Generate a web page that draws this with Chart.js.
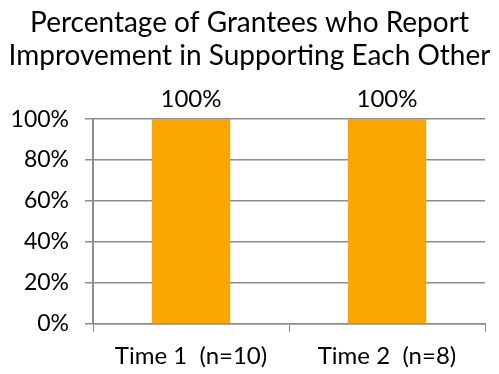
<!DOCTYPE html>
<html>
<head>
<meta charset="utf-8">
<script src="https://cdn.jsdelivr.net/npm/chart.js@4/dist/chart.umd.min.js"></script>
<style>
  html, body { margin: 0; padding: 0; background: #fff; }
  #wrap { width: 499px; height: 374px; }
</style>
</head>
<body>
<div id="wrap"><canvas id="chart" width="499" height="374"></canvas></div>
<script>
// chart data
var categories = ['Time 1  (n=10)', 'Time 2  (n=8)'];
var percentImproved = [100, 100];
var yTicks = [0, 20, 40, 60, 80, 100];

var FONT = 'Lato, "Liberation Sans", sans-serif';

// draws the "100%" labels above each bar
var barLabels = {
    id: 'barLabels',
    afterDatasetsDraw(chart) {
        var ctx = chart.ctx;
        var meta = chart.getDatasetMeta(0);
        ctx.save();
        ctx.font = '24px ' + FONT;
        ctx.fillStyle = '#000';
        ctx.textAlign = 'center';
        ctx.textBaseline = 'middle';
        meta.data.forEach(function (bar, i) {
            ctx.fillText(chart.data.datasets[0].data[i] + '%', bar.x, bar.y - 20);
        });
        ctx.restore();
    }
};

var ctx = document.getElementById('chart').getContext('2d');
var chart = new Chart(ctx, {
    type: 'bar',
    data: {
        labels: categories,
        datasets: [{
            data: percentImproved,
            backgroundColor: '#FAA500',
            borderWidth: 0,
            barPercentage: 0.4,
            categoryPercentage: 1.0
        }]
    },
    options: {
        responsive: false,
        animation: false,
        layout: { padding: 0 },
        plugins: {
            legend: { display: false },
            tooltip: { enabled: false },
            title: {
                display: true,
                text: ['Percentage of Grantees who Report', 'Improvement in Supporting Each Other'],
                color: '#000',
                font: { family: FONT, size: 28, weight: 'normal', lineHeight: 1.18 },
                padding: { top: 6, bottom: 47 }
            }
        },
        scales: {
            x: {
                grid: {
                    offset: true,
                    drawOnChartArea: false,
                    tickLength: 8,
                    color: '#8c8c8c'
                },
                border: { color: '#8c8c8c', width: 1.5 },
                ticks: {
                    color: '#000',
                    font: { family: FONT, size: 24 },
                    padding: 10,
                    maxRotation: 0
                },
                afterFit: function (axis) { axis.height = 50; }
            },
            y: {
                min: 0,
                max: 100,
                afterBuildTicks: function (axis) {
                    axis.ticks = yTicks.map(function (v) { return { value: v }; });
                },
                grid: {
                    color: '#8c8c8c',
                    lineWidth: 1.5,
                    tickLength: 8
                },
                border: { color: '#8c8c8c', width: 2 },
                ticks: {
                    color: '#000',
                    font: { family: FONT, size: 23 },
                    padding: 16,
                    callback: function (v) { return v + '%'; }
                },
                afterFit: function (axis) { axis.width = 93; }
            },
            // empty right-hand spacer so the title stays centred on the canvas
            spacer: {
                type: 'linear',
                position: 'right',
                display: true,
                grid: { display: false },
                border: { display: false },
                ticks: { display: false },
                afterFit: function (axis) { axis.width = 14; }
            }
        }
    },
    plugins: [barLabels]
});
</script>
</body>
</html>
